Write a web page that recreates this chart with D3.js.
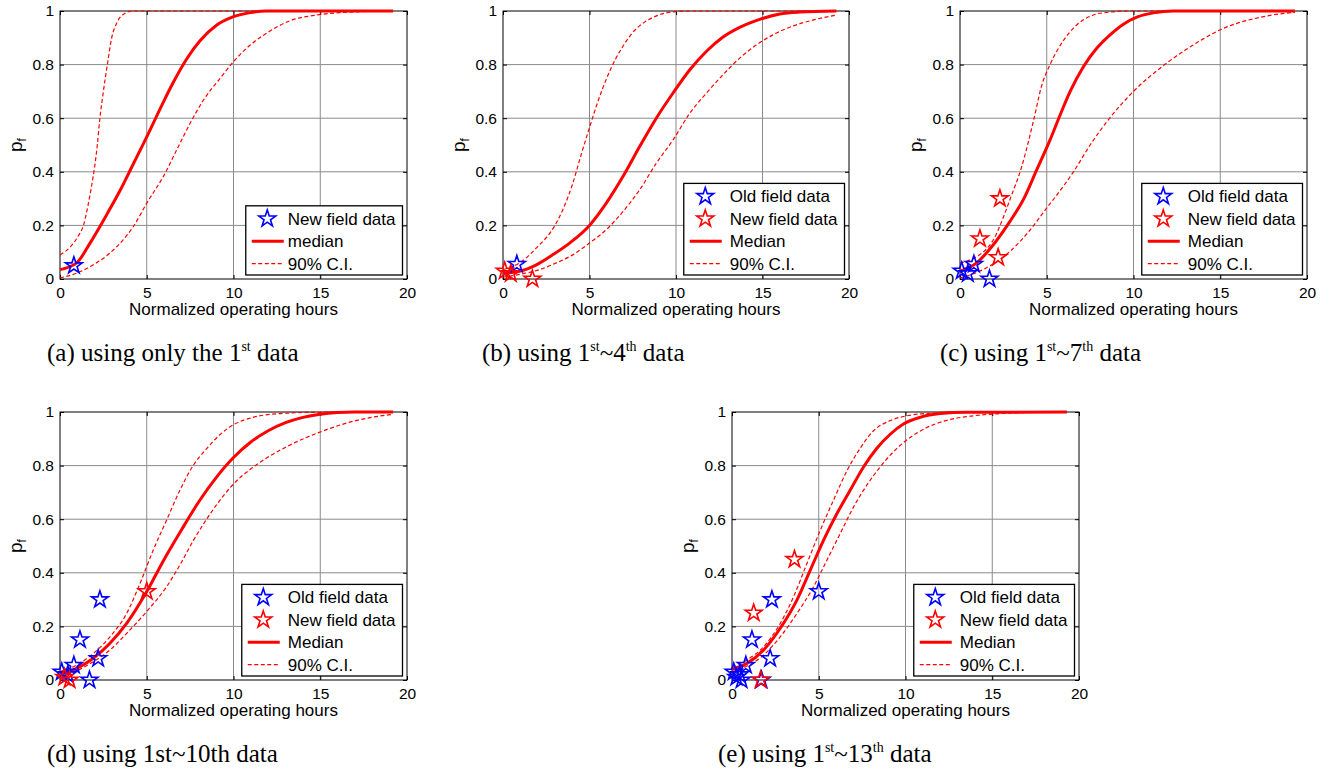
<!DOCTYPE html>
<html>
<head>
<meta charset="utf-8">
<script src="https://cdn.jsdelivr.net/npm/d3@7"></script>
<style>
  body { margin: 0; background: #fff; }
  svg { display: block; }
  .sans { font-family: "Liberation Sans", Arial, sans-serif; }
  .serif { font-family: "Liberation Serif", "Times New Roman", serif; }
</style>
</head>
<body>
<svg id="fig" width="1332" height="775"></svg>
<script>
// values: [normalized operating hours, p_f]
var medianA = [[0,0.035],[0.96,0.06],[1.73,0.134],[2.69,0.24],[3.46,0.33],[4.23,0.43],[5,0.53],[5.77,0.635],[6.54,0.735],[7.31,0.822],[8.08,0.89],[9.04,0.948],[10,0.979],[10.96,0.994],[11.9,1],[19.2,1]];
var upperA  = [[0,0.09],[0.6,0.12],[1.0,0.155],[1.35,0.2],[1.6,0.27],[1.8,0.34],[2.0,0.42],[2.15,0.5],[2.3,0.6],[2.5,0.7],[2.73,0.8],[2.98,0.9],[3.27,0.955],[3.7,0.99],[4.2,1],[19.2,1]];
var lowerA  = [[0,0.004],[0.96,0.022],[1.92,0.053],[2.88,0.097],[3.65,0.147],[4.23,0.196],[5,0.283],[5.96,0.383],[6.73,0.482],[7.5,0.581],[8.27,0.668],[9.23,0.749],[10,0.811],[10.96,0.873],[11.9,0.917],[13.27,0.964],[14.8,0.985],[16.7,0.996],[19.2,1]];

var medianB = [[0,0.022],[0.96,0.029],[1.93,0.053],[2.89,0.091],[3.85,0.134],[5,0.2],[5.97,0.283],[6.94,0.383],[7.9,0.494],[8.86,0.6],[9.83,0.694],[10.8,0.781],[11.75,0.849],[12.7,0.902],[13.68,0.939],[14.84,0.969],[16,0.989],[17.15,0.996],[19.27,1]];
var upperB  = [[0,0.035],[0.96,0.06],[1.93,0.116],[3.0,0.2],[3.5,0.265],[4.0,0.35],[4.5,0.46],[5.0,0.565],[5.5,0.665],[6.0,0.75],[6.5,0.82],[7.0,0.875],[7.5,0.92],[8.0,0.95],[9.0,0.985],[10,0.998],[11,1],[19.27,1]];
var lowerB  = [[0,0.007],[1.16,0.02],[2.12,0.035],[3.08,0.06],[4.05,0.091],[5,0.134],[5.97,0.184],[6.94,0.252],[7.9,0.333],[8.86,0.432],[9.83,0.519],[10.8,0.619],[11.75,0.693],[12.7,0.761],[13.68,0.824],[14.64,0.873],[15.6,0.911],[16.76,0.944],[17.9,0.966],[19.27,0.985]];

var medianC = [[0,0.029],[0.96,0.06],[1.92,0.128],[2.88,0.215],[3.65,0.296],[4.42,0.407],[5.19,0.519],[5.77,0.612],[6.35,0.7],[7.12,0.793],[7.88,0.861],[8.65,0.911],[9.42,0.951],[10.19,0.977],[11.15,0.993],[12.3,1],[19.3,1]];
var upperC  = [[0,0.06],[1.0,0.085],[1.5,0.11],[2.0,0.155],[2.31,0.2],[2.9,0.3],[3.56,0.42],[4.27,0.6],[4.7,0.72],[5.19,0.8],[5.96,0.89],[6.73,0.948],[7.69,0.985],[8.65,0.996],[9.8,1],[19.3,1]];
var lowerC  = [[0,0.004],[1,0.025],[2,0.06],[3,0.11],[4,0.18],[5,0.265],[6,0.35],[6.54,0.4],[7.5,0.5],[8.56,0.595],[10,0.7],[11.8,0.8],[13,0.855],[14,0.895],[15,0.93],[16,0.955],[17,0.972],[18,0.985],[19.3,0.995]];

var medianD = [[0,0.022],[0.96,0.043],[1.92,0.081],[2.88,0.137],[3.84,0.211],[5,0.33],[6,0.45],[7,0.56],[8,0.665],[9,0.755],[10,0.83],[11,0.888],[12,0.93],[13,0.96],[14,0.98],[15,0.992],[16,0.998],[17,1],[19.2,1]];
var upperD  = [[0,0.031],[0.96,0.056],[1.92,0.099],[2.88,0.161],[3.84,0.248],[4.61,0.36],[5.37,0.484],[6.14,0.596],[6.91,0.708],[7.68,0.801],[8.45,0.863],[9.21,0.915],[9.98,0.952],[11.13,0.98],[12.67,0.994],[14.78,0.999],[19.2,1]];
var lowerD  = [[0,0.015],[0.96,0.035],[1.92,0.068],[2.88,0.112],[3.84,0.174],[4.99,0.255],[6.14,0.348],[6.91,0.429],[7.68,0.52],[8.45,0.6],[9.21,0.67],[9.98,0.73],[10.94,0.785],[11.9,0.828],[13.05,0.87],[14.2,0.905],[15.36,0.934],[16.7,0.962],[18.04,0.981],[19.2,0.991]];

var medianE = [[0,0.04],[0.86,0.062],[1.82,0.112],[2.78,0.193],[3.74,0.298],[4.51,0.41],[5.28,0.522],[6.05,0.621],[6.81,0.708],[7.58,0.795],[8.35,0.865],[9.12,0.917],[9.88,0.955],[10.84,0.98],[12,0.994],[13.53,0.999],[19.3,1]];
var upperE  = [[0,0.05],[0.86,0.075],[1.82,0.124],[2.78,0.211],[3.55,0.311],[4.32,0.435],[5.09,0.559],[5.85,0.671],[6.62,0.78],[7.39,0.865],[8.16,0.93],[9.12,0.968],[10.27,0.988],[11.61,0.996],[13.15,1],[19.3,1]];
var lowerE  = [[0,0.031],[0.86,0.052],[1.82,0.093],[2.78,0.161],[3.74,0.248],[4.7,0.348],[5.47,0.447],[6.24,0.547],[7.01,0.646],[7.77,0.727],[8.54,0.795],[9.31,0.852],[10.27,0.905],[11.23,0.942],[12.38,0.969],[13.92,0.986],[15.45,0.994],[17.37,0.999],[19.3,1]];

// field data stars
var newA = [[0.8,0.05]];
var oldB = [[0.8,0.055]];
var newB = [[0.1,0.03],[0.45,0.02],[1.7,0.0]];
var oldC = [[0.1,0.03],[0.45,0.02],[0.8,0.055],[1.7,0.0]];
var newC = [[1.15,0.15],[2.3,0.3],[2.2,0.08]];
var oldD = [[0.1,0.03],[0.45,0.02],[0.8,0.055],[1.7,0.0],[1.15,0.15],[2.3,0.3],[2.2,0.08]];
var newD = [[0.25,0.01],[0.55,0.0],[5.0,0.33]];
var oldE = [[0.1,0.03],[0.45,0.02],[0.8,0.055],[1.7,0.0],[1.15,0.15],[2.3,0.3],[2.2,0.08],[0.25,0.01],[0.55,0.0],[5.0,0.33]];
var newE = [[1.25,0.25],[3.6,0.45],[1.65,0.0]];

var xTicks = [0, 5, 10, 15, 20];
var yTicks = [0, 0.2, 0.4, 0.6, 0.8, 1];
var xLabel = "Normalized operating hours";

var panels = [
  { box: [60, 11, 347, 268], median: medianA, upper: upperA, lower: lowerA, old: null, fresh: newA, freshColor: "#0000ff",
    legend: ["New field data", "median", "90% C.I."], textOff: 42,
    caption: [["(a) using only the 1"], ["st", true], [" data"]], capPos: [47, 361] },
  { box: [503, 11, 346, 268], median: medianB, upper: upperB, lower: lowerB, old: oldB, fresh: newB, freshColor: "#ff0000",
    legend: ["Old field data", "New field data", "Median", "90% C.I."], textOff: 46,
    caption: [["(b) using 1"], ["st", true], ["~4"], ["th", true], [" data"]], capPos: [482, 361] },
  { box: [960, 11, 347, 268], median: medianC, upper: upperC, lower: lowerC, old: oldC, fresh: newC, freshColor: "#ff0000",
    legend: ["Old field data", "New field data", "Median", "90% C.I."], textOff: 46,
    caption: [["(c) using 1"], ["st", true], ["~7"], ["th", true], [" data"]], capPos: [940, 361] },
  { box: [60, 412, 347, 268], median: medianD, upper: upperD, lower: lowerD, old: oldD, fresh: newD, freshColor: "#ff0000",
    legend: ["Old field data", "New field data", "Median", "90% C.I."], textOff: 46,
    caption: [["(d) using 1st~10th data"]], capPos: [47, 762] },
  { box: [732, 412, 347, 268], median: medianE, upper: upperE, lower: lowerE, old: oldE, fresh: newE, freshColor: "#ff0000",
    legend: ["Old field data", "New field data", "Median", "90% C.I."], textOff: 46,
    caption: [["(e) using 1"], ["st", true], ["~13"], ["th", true], [" data"]], capPos: [718, 762] }
];

var svg = d3.select("#fig");
var starPath = d3.symbol().type(d3.symbolStar).size(88)();

panels.forEach(function (p) {
  var left = p.box[0], top = p.box[1], w = p.box[2], h = p.box[3];
  var x = d3.scaleLinear().domain([0, 20]).range([0, w]);
  var y = d3.scaleLinear().domain([0, 1]).range([h, 0]);
  var g = svg.append("g").attr("transform", "translate(" + left + "," + top + ")");

  // grid
  g.selectAll(".gx").data(xTicks.slice(1, -1)).enter().append("line")
    .attr("x1", function (d) { return x(d); }).attr("x2", function (d) { return x(d); })
    .attr("y1", 0).attr("y2", h).attr("stroke", "#8a8a8a").attr("stroke-width", 1);
  g.selectAll(".gy").data(yTicks.slice(1, -1)).enter().append("line")
    .attr("y1", function (d) { return y(d); }).attr("y2", function (d) { return y(d); })
    .attr("x1", 0).attr("x2", w).attr("stroke", "#8a8a8a").attr("stroke-width", 1);

  // axes, ticks pointing inwards on all four sides
  var axB = d3.axisBottom(x).tickValues(xTicks).tickSize(-4).tickPadding(8).tickFormat(d3.format("d"));
  var axT = d3.axisTop(x).tickValues(xTicks).tickSize(-4).tickFormat("");
  var axL = d3.axisLeft(y).tickValues(yTicks).tickSize(-4).tickPadding(6).tickFormat(function (d) { return d === 0 || d === 1 ? d : d3.format(".1f")(d); });
  var axR = d3.axisRight(y).tickValues(yTicks).tickSize(-4).tickFormat("");
  [[axB, "0," + h], [axT, "0,0"], [axL, "0,0"], [axR, w + ",0"]].forEach(function (a) {
    var ag = g.append("g").attr("transform", "translate(" + a[1] + ")").call(a[0]);
    ag.select(".domain").remove();
    ag.selectAll("line").attr("stroke", "#000");
    ag.selectAll("text").attr("class", "sans").attr("font-size", 15.5).attr("fill", "#000");
  });
  g.append("rect").attr("width", w).attr("height", h).attr("fill", "none").attr("stroke", "#000").attr("stroke-width", 1);

  // curves
  var line = d3.line().x(function (d) { return x(d[0]); }).y(function (d) { return y(d[1]); }).curve(d3.curveMonotoneX);
  g.append("path").attr("d", line(p.upper)).attr("fill", "none").attr("stroke", "#ff0000").attr("stroke-width", 1.2).attr("stroke-dasharray", "4,2.5");
  g.append("path").attr("d", line(p.lower)).attr("fill", "none").attr("stroke", "#ff0000").attr("stroke-width", 1.2).attr("stroke-dasharray", "4,2.5");
  g.append("path").attr("d", line(p.median)).attr("fill", "none").attr("stroke", "#ff0000").attr("stroke-width", 3);

  // stars
  function stars(data, color) {
    g.selectAll(null).data(data).enter().append("path")
      .attr("d", starPath)
      .attr("transform", function (d) { return "translate(" + x(d[0]) + "," + y(d[1]) + ")"; })
      .attr("fill", "none").attr("stroke", color).attr("stroke-width", 1.6);
  }
  if (p.old) stars(p.old, "#0000ff");
  stars(p.fresh, p.freshColor);

  // axis labels
  g.append("text").attr("class", "sans").attr("x", w / 2).attr("y", h + 36)
    .attr("text-anchor", "middle").attr("font-size", 17).text(xLabel);
  var yl = g.append("text").attr("class", "sans").attr("transform", "translate(-38," + (h / 2) + ") rotate(-90)")
    .attr("text-anchor", "middle").attr("font-size", 19);
  yl.append("tspan").text("p");
  yl.append("tspan").attr("font-size", 12).attr("dy", 4).text("f");

  // legend
  var rows = p.legend.length, rowH = 22.4;
  var lg = g.append("g");
  var lbox = lg.append("rect").attr("fill", "#fff").attr("stroke", "#000").attr("stroke-width", 1.3);
  var maxW = 0;
  p.legend.forEach(function (label, i) {
    var cy = 13 + i * rowH;
    var t = lg.append("text").attr("class", "sans").attr("x", p.textOff).attr("y", cy + 6)
      .attr("font-size", 17).text(label);
    maxW = Math.max(maxW, t.node().getComputedTextLength());
    var kind = rows - i;
    if (kind === 1) {
      lg.append("line").attr("x1", 6).attr("x2", 38).attr("y1", cy).attr("y2", cy)
        .attr("stroke", "#ff0000").attr("stroke-width", 1.2).attr("stroke-dasharray", "4,2.5");
    } else if (kind === 2) {
      lg.append("line").attr("x1", 6).attr("x2", 38).attr("y1", cy).attr("y2", cy)
        .attr("stroke", "#ff0000").attr("stroke-width", 3);
    } else {
      var col = (rows === 4 && i === 1) ? p.freshColor : (rows === 3 ? p.freshColor : "#0000ff");
      lg.append("path").attr("d", starPath).attr("transform", "translate(21.5," + cy + ")")
        .attr("fill", "none").attr("stroke", col).attr("stroke-width", 1.6);
    }
  });
  var lw = p.textOff + maxW + 7, lh = rows * rowH + 2;
  lbox.attr("width", lw).attr("height", lh);
  lg.attr("transform", "translate(" + (w - 4.5 - lw) + "," + (h - 4 - lh) + ")");

  // caption, with superscripts
  var cap = svg.append("text").attr("class", "serif").attr("x", p.capPos[0]).attr("y", p.capPos[1]).attr("font-size", 25);
  var raised = false;
  p.caption.forEach(function (part) {
    var sup = !!part[1];
    var dy = sup ? (raised ? 0 : -10) : (raised ? 10 : 0);
    cap.append("tspan").attr("font-size", sup ? 14 : 25).attr("dy", dy).text(part[0]);
    raised = sup;
  });
});
</script>
</body>
</html>
